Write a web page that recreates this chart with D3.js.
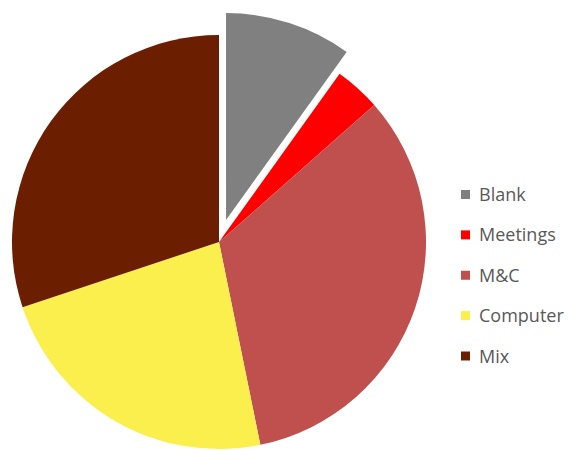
<!DOCTYPE html>
<html>
<head>
<meta charset="utf-8">
<script src="https://cdn.jsdelivr.net/npm/d3@7"></script>
<style>
  html, body { margin: 0; padding: 0; background: #fff; }
  svg { display: block; }
</style>
</head>
<body>
<svg id="chart" width="568" height="451"></svg>
<script>
// Share of time by activity (percent)
const categories = ["Blank", "Meetings", "M&C", "Computer", "Mix"];
const values = [9.9, 3.6, 33.3, 23.1, 30.1];
const colors = ["#808080", "#FF0000", "#C0504D", "#FAEF4C", "#6B1F00"];
// Slices pulled out from the centre
const explodedCategories = ["Blank"];

const width = 568, height = 451;
const cx = 219, cy = 242, radius = 207, explodeOffset = 23;

const svg = d3.select("#chart");

const data = categories.map((c, i) => ({ category: c, value: values[i], color: colors[i] }));

const pie = d3.pie()
  .sort(null)
  .value(d => d.value);

const arc = d3.arc()
  .innerRadius(0)
  .outerRadius(radius);

const g = svg.append("g").attr("transform", `translate(${cx},${cy})`);

g.selectAll("path")
  .data(pie(data))
  .join("path")
  .attr("d", arc)
  .attr("fill", d => d.data.color)
  .attr("transform", d => {
    if (!explodedCategories.includes(d.data.category)) return null;
    const mid = (d.startAngle + d.endAngle) / 2;
    return `translate(${Math.sin(mid) * explodeOffset},${-Math.cos(mid) * explodeOffset})`;
  });

// Legend
const legendY = d3.scalePoint()
  .domain(categories)
  .range([194.5, 356]);

const legend = svg.append("g");
const items = legend.selectAll("g")
  .data(data)
  .join("g")
  .attr("transform", d => `translate(461,${legendY(d.category)})`);

items.append("rect")
  .attr("x", 0)
  .attr("y", -4.5)
  .attr("width", 9)
  .attr("height", 9)
  .attr("fill", d => d.color);

items.append("text")
  .attr("x", 18)
  .attr("y", 6.5)
  .attr("font-family", "'Open Sans', sans-serif")
  .attr("font-size", 18)
  .attr("fill", "#595959")
  .text(d => d.category);
</script>
</body>
</html>
